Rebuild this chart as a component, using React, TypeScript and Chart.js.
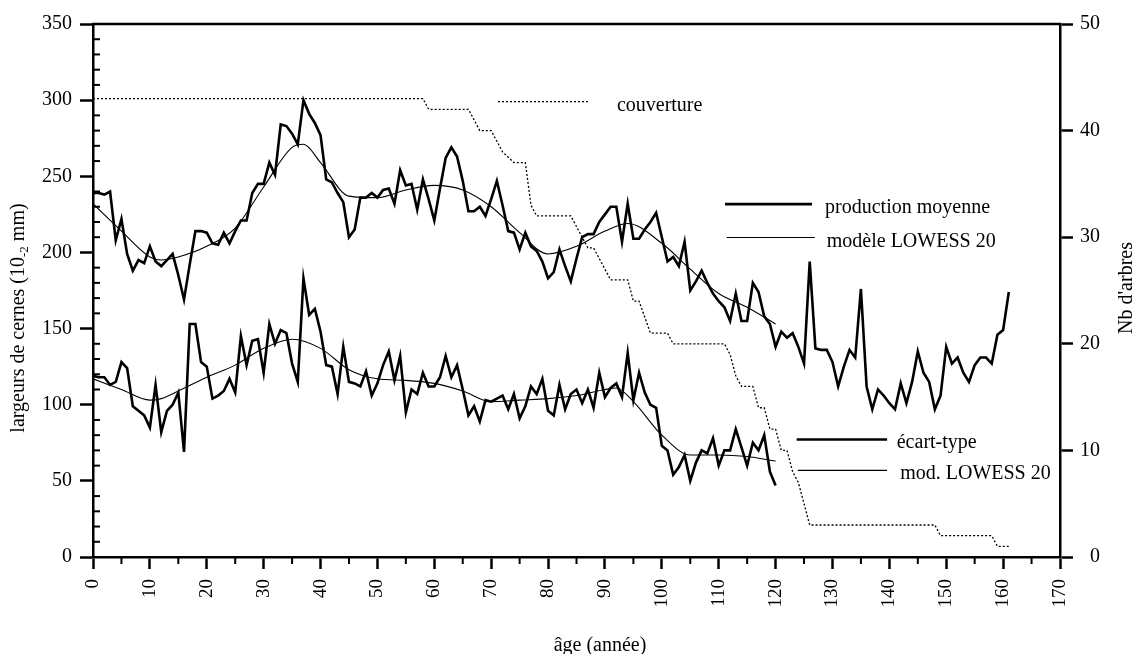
import React, { useEffect, useRef } from 'react';
import { Chart, registerables } from 'chart.js';

Chart.register(...registerables);

const FONT = '"Liberation Serif", "Times New Roman", serif';

// production moyenne (largeurs de cernes, 10-2 mm), âge 0..161
const productionMoyenne = [
  239, 239, 238, 240, 208, 222, 199, 188, 195, 193,
  204, 194, 191, 195, 199, 185, 169, 192, 214, 214,
  213, 206, 205, 213, 206, 214, 221, 221, 239, 245,
  245, 259, 251, 284, 283, 278, 271, 300, 291, 285,
  277, 248, 246, 239, 233, 210, 215, 236, 236, 239,
  236, 241, 242, 232, 254, 244, 245, 228, 248, 235,
  221, 242, 262, 269, 263, 247, 227, 227, 230, 224,
  235, 247, 231, 214, 213, 202, 213, 204, 201, 194,
  183, 187, 202, 191, 181, 196, 210, 212, 212, 220,
  225, 230, 230, 207, 232, 209, 209, 215, 220, 226,
  210, 194, 197, 191, 207, 175, 181, 188, 180, 173,
  168, 164, 155, 173, 155, 155, 180, 174, 158, 153,
  138, 148, 144, 147, 138, 127, 194, 137, 136, 136,
  128, 112, 125, 136, 131, 176, 112, 97, 110, 106,
  101, 97, 114, 101, 115, 135, 121, 115, 97, 106,
  138, 127, 131, 121, 115, 126, 131, 131, 127, 146,
  149, 174,
];

// écart-type, âge 0..120
const ecartType = [
  119, 118, 118, 113, 115, 128, 124, 99, 96, 93,
  85, 113, 82, 96, 100, 108, 69, 153, 153, 128,
  125, 104, 106, 109, 117, 108, 145, 126, 142, 143,
  121, 153, 140, 149, 147, 127, 115, 183, 159, 163,
  148, 126, 125, 107, 138, 115, 114, 112, 122, 106,
  114, 126, 135, 116, 132, 95, 110, 107, 121, 112,
  112, 118, 132, 118, 126, 110, 93, 99, 89, 103,
  102, 104, 106, 97, 107, 91, 99, 112, 107, 117,
  96, 93, 113, 97, 107, 110, 101, 110, 98, 121,
  105, 111, 114, 105, 134, 103, 121, 108, 100, 98,
  73, 70, 54, 59, 67, 50, 62, 70, 68, 78,
  60, 70, 70, 84, 72, 60, 75, 70, 80, 56,
  47,
];

// modèle LOWESS 20 de la production moyenne
const lowessProdAges = [0, 5, 10, 12, 15, 20, 25, 30, 35, 37, 40, 45, 50, 55, 60, 65, 70, 75, 80, 85, 90, 94, 100, 105, 110, 115, 120];
const lowessProd = [232, 214, 197, 195, 197, 204, 216, 243, 269, 271, 259, 237, 236, 241, 244, 241, 230, 213, 199, 204, 214, 219, 206, 189, 173, 164, 153];

// mod. LOWESS 20 de l'écart-type
const lowessEcartAges = [0, 5, 10, 12, 15, 20, 25, 30, 35, 40, 45, 50, 55, 60, 65, 70, 75, 80, 85, 90, 92, 95, 100, 105, 110, 115, 120];
const lowessEcart = [117, 110, 103, 104, 109, 118, 126, 137, 143, 137, 123, 117, 116, 114, 109, 102, 103, 104, 106, 110, 111, 102, 80, 67, 67, 66, 63];

// couverture (Nb d'arbres) – points de rupture
const couvertureAges = [0, 58, 59, 66, 68, 70, 72, 74, 76, 77, 78, 84, 85, 86, 87, 88, 91, 94, 95, 96, 98, 101, 102, 111, 112, 113, 114, 116, 117, 118, 119, 120, 121, 122, 123, 124, 125, 126, 148, 149, 158, 159, 161];
const couvertureArbres = [43, 43, 42, 42, 40, 40, 38, 37, 37, 33, 32, 32, 31, 30, 29, 29, 26, 26, 24, 24, 21, 21, 20, 20, 19, 17, 16, 16, 14, 14, 12, 12, 10, 10, 8, 7, 5, 3, 3, 2, 2, 1, 1];

const xMinorTicks = [5, 15, 25, 35, 45, 55, 65, 75, 85, 95, 105, 115, 125, 135, 145, 155, 165];
const yMinorTicks = [10, 20, 30, 40, 60, 70, 80, 90, 110, 120, 130, 140, 160, 170, 180, 190, 210, 220, 230, 240, 260, 270, 280, 290, 310, 320, 330, 340];

const legendItems = [
  { label: 'couverture', x1: 71.2, x2: 87, textX: 92.1, y: 299, width: 1.3, dash: [2, 2] },
  { label: 'production moyenne', x1: 111.1, x2: 126.4, textX: 128.7, y: 231.7, width: 2.6, dash: [] },
  { label: 'modèle LOWESS 20', x1: 111.4, x2: 126.9, textX: 129.0, y: 209.8, width: 1.1, dash: [] },
  { label: 'écart-type', x1: 123.7, x2: 139.6, textX: 141.3, y: 77.2, width: 2.6, dash: [] },
  { label: 'mod. LOWESS 20', x1: 123.9, x2: 139.6, textX: 141.9, y: 56.9, width: 1.1, dash: [] },
];

const decorPlugin = {
  id: 'decor',
  afterDraw(chart: any) {
    const { ctx, chartArea: a, scales } = chart;
    const xs = scales.x;
    const ys = scales.y;
    ctx.save();
    ctx.strokeStyle = '#000';
    ctx.fillStyle = '#000';
    ctx.lineCap = 'butt';

    // top frame line
    ctx.lineWidth = 2.5;
    ctx.beginPath();
    ctx.moveTo(a.left - 1, a.top);
    ctx.lineTo(a.right + 1, a.top);
    ctx.stroke();

    // minor ticks
    ctx.lineWidth = 2;
    for (const v of xMinorTicks) {
      const p = xs.getPixelForValue(v);
      ctx.beginPath();
      ctx.moveTo(p, a.bottom);
      ctx.lineTo(p, a.bottom + 7);
      ctx.stroke();
    }
    for (const v of yMinorTicks) {
      const p = ys.getPixelForValue(v);
      ctx.beginPath();
      ctx.moveTo(a.left, p);
      ctx.lineTo(a.left + 7, p);
      ctx.stroke();
    }

    // legends
    ctx.font = `20px ${FONT}`;
    ctx.textAlign = 'left';
    ctx.textBaseline = 'alphabetic';
    for (const it of legendItems) {
      const py = ys.getPixelForValue(it.y);
      ctx.lineWidth = it.width;
      ctx.setLineDash(it.dash);
      ctx.beginPath();
      ctx.moveTo(xs.getPixelForValue(it.x1), py);
      ctx.lineTo(xs.getPixelForValue(it.x2), py);
      ctx.stroke();
      ctx.setLineDash([]);
      ctx.fillText(it.label, xs.getPixelForValue(it.textX), py + 9);
    }

    // left title with subscript
    const p1 = 'largeurs de cernes (10';
    const sub = '-2';
    const p3 = ' mm)';
    ctx.font = `20px ${FONT}`;
    const w1 = ctx.measureText(p1).width;
    const w3 = ctx.measureText(p3).width;
    ctx.font = `13px ${FONT}`;
    const w2 = ctx.measureText(sub).width;
    const total = w1 + w2 + w3;
    ctx.save();
    ctx.translate(24, 318);
    ctx.rotate(-Math.PI / 2);
    let cx = -total / 2;
    ctx.font = `20px ${FONT}`;
    ctx.fillText(p1, cx, 0);
    cx += w1;
    ctx.font = `13px ${FONT}`;
    ctx.fillText(sub, cx, 4);
    cx += w2;
    ctx.font = `20px ${FONT}`;
    ctx.fillText(p3, cx, 0);
    ctx.restore();

    // right title
    ctx.save();
    ctx.translate(1132, 288);
    ctx.rotate(-Math.PI / 2);
    ctx.font = `20px ${FONT}`;
    ctx.textAlign = 'center';
    ctx.fillText("Nb d'arbres", 0, 0);
    ctx.restore();

    // x title
    ctx.font = `20px ${FONT}`;
    ctx.textAlign = 'center';
    ctx.fillText('âge (année)', 600, 651);

    ctx.restore();
  },
};

export default function App() {
  const ref = useRef<HTMLCanvasElement | null>(null);

  useEffect(() => {
    document.body.style.margin = '0';
    const canvas = ref.current;
    if (!canvas) return;

    const black = '#000';
    const chart = new Chart(canvas, {
      type: 'line',
      data: {
        datasets: [
          {
            label: 'couverture',
            data: couvertureAges.map((x, i) => ({ x, y: couvertureArbres[i] })),
            yAxisID: 'y2',
            borderColor: black,
            borderWidth: 1.3,
            borderDash: [2, 2],
            pointRadius: 0,
            tension: 0,
            fill: false,
          },
          {
            label: 'production moyenne',
            data: productionMoyenne.map((y, i) => ({ x: i, y })),
            yAxisID: 'y',
            borderColor: black,
            borderWidth: 2.6,
            pointRadius: 0,
            tension: 0,
            fill: false,
          },
          {
            label: 'modèle LOWESS 20',
            data: lowessProdAges.map((x, i) => ({ x, y: lowessProd[i] })),
            yAxisID: 'y',
            borderColor: black,
            borderWidth: 1.1,
            pointRadius: 0,
            cubicInterpolationMode: 'monotone',
            fill: false,
          },
          {
            label: 'écart-type',
            data: ecartType.map((y, i) => ({ x: i, y })),
            yAxisID: 'y',
            borderColor: black,
            borderWidth: 2.6,
            pointRadius: 0,
            tension: 0,
            fill: false,
          },
          {
            label: 'mod. LOWESS 20',
            data: lowessEcartAges.map((x, i) => ({ x, y: lowessEcart[i] })),
            yAxisID: 'y',
            borderColor: black,
            borderWidth: 1.1,
            pointRadius: 0,
            cubicInterpolationMode: 'monotone',
            fill: false,
          },
        ],
      },
      options: {
        animation: false,
        responsive: false,
        devicePixelRatio: 1,
        layout: { padding: { left: 0, right: 34, top: 24, bottom: 0 } },
        plugins: {
          legend: { display: false },
          tooltip: { enabled: false },
        },
        scales: {
          x: {
            type: 'linear',
            position: 'bottom',
            min: 0,
            max: 170,
            afterFit: (s: any) => { s.height = 97; },
            ticks: {
              stepSize: 10,
              autoSkip: false,
              minRotation: 90,
              maxRotation: 90,
              padding: 10,
              color: black,
              font: { family: FONT, size: 19 },
            },
            grid: {
              drawOnChartArea: false,
              drawTicks: true,
              tickLength: 12,
              tickWidth: 2.5,
              tickColor: black,
            },
            border: { display: true, color: black, width: 2.5 },
          },
          y: {
            type: 'linear',
            position: 'left',
            min: 0,
            max: 350,
            afterFit: (s: any) => { s.width = 93; },
            ticks: {
              stepSize: 50,
              padding: 8,
              color: black,
              font: { family: FONT, size: 20 },
            },
            grid: {
              drawOnChartArea: false,
              drawTicks: true,
              tickLength: 13,
              tickWidth: 2.5,
              tickColor: black,
            },
            border: { display: true, color: black, width: 2.5 },
          },
          y2: {
            type: 'linear',
            position: 'right',
            min: 0,
            max: 50,
            afterFit: (s: any) => { s.width = 40; },
            ticks: {
              stepSize: 10,
              padding: 7,
              crossAlign: 'far',
              color: black,
              font: { family: FONT, size: 20 },
            },
            grid: {
              drawOnChartArea: false,
              drawTicks: true,
              tickLength: 13,
              tickWidth: 2.5,
              tickColor: black,
            },
            border: { display: true, color: black, width: 2.5 },
          },
        },
      },
      plugins: [decorPlugin],
    } as any);

    return () => chart.destroy();
  }, []);

  return (
    <div style={{ width: 1134, height: 654, background: '#fff' }}>
      <canvas ref={ref} width={1134} height={654} style={{ display: 'block' }} />
    </div>
  );
}
